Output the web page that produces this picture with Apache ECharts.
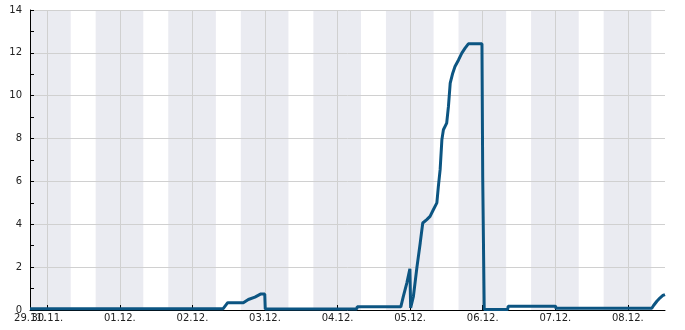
<!DOCTYPE html>
<html>
<head>
<meta charset="utf-8">
<script src="https://cdn.jsdelivr.net/npm/echarts@6/dist/echarts.min.js"></script>
<style>
html,body{margin:0;padding:0;background:#fff;}
#chart{width:685px;height:330px;}
</style>
</head>
<body>
<div id="chart"></div>
<script>
// Time stamps (UTC) and values of the line
const times = [
  '2020-11-29T18:17','2020-12-02T10:10','2020-12-02T11:40','2020-12-02T16:50','2020-12-02T18:30',
  '2020-12-02T20:40','2020-12-02T22:40','2020-12-02T23:55','2020-12-03T00:05','2020-12-04T06:20',
  '2020-12-04T06:30','2020-12-04T20:55','2020-12-04T21:45','2020-12-04T22:55','2020-12-04T23:55',
  '2020-12-05T00:10','2020-12-05T01:05','2020-12-05T02:15','2020-12-05T03:20','2020-12-05T04:10',
  '2020-12-05T05:30','2020-12-05T06:35','2020-12-05T07:40','2020-12-05T08:50','2020-12-05T09:20',
  '2020-12-05T09:55','2020-12-05T10:30','2020-12-05T11:00','2020-12-05T12:05','2020-12-05T12:40',
  '2020-12-05T13:15','2020-12-05T14:05','2020-12-05T14:50','2020-12-05T16:00','2020-12-05T17:05',
  '2020-12-05T18:10','2020-12-05T19:15','2020-12-05T23:45','2020-12-06T00:00','2020-12-06T00:30',
  '2020-12-06T08:15','2020-12-06T08:25','2020-12-07T00:05','2020-12-07T00:15','2020-12-08T07:55',
  '2020-12-08T08:30','2020-12-08T09:05','2020-12-08T09:35','2020-12-08T10:10','2020-12-08T10:40',
  '2020-12-08T11:35','2020-12-08T12:17'
];
const values = [
  0.06,0.06,0.34,0.34,0.49,
  0.60,0.75,0.75,0.05,0.05,
  0.15,0.15,0.64,1.27,1.92,
  0.10,0.64,2.00,3.13,4.06,
  4.22,4.37,4.68,5.00,5.77,
  6.55,7.95,8.41,8.72,9.50,
  10.59,11.05,11.36,11.67,11.99,
  12.22,12.42,12.42,6.20,0.02,
  0.02,0.18,0.18,0.08,0.08,
  0.21,0.30,0.41,0.49,0.57,
  0.68,0.72
];
// Night bands (shaded)
const bandStarts = ['2020-11-29T16:00','2020-11-30T16:00','2020-12-01T16:00','2020-12-02T16:00','2020-12-03T16:00','2020-12-04T16:00','2020-12-05T16:00','2020-12-06T16:00','2020-12-07T16:00'];
const bandEnds   = ['2020-11-30T07:45','2020-12-01T07:45','2020-12-02T07:45','2020-12-03T07:45','2020-12-04T07:45','2020-12-05T07:45','2020-12-06T07:45','2020-12-07T07:45','2020-12-08T07:45'];
// X tick positions (midnights) and axis range
const dayTicks = ['2020-11-30T00:00','2020-12-01T00:00','2020-12-02T00:00','2020-12-03T00:00','2020-12-04T00:00','2020-12-05T00:00','2020-12-06T00:00','2020-12-07T00:00','2020-12-08T00:00'];
const xMin = '2020-11-29T18:17';
const xMax = '2020-12-08T12:17';
const epoch = '2020-11-29T00:00';
const yTicks = [0,2,4,6,8,10,12,14];

const DAY = 86400000;
const ms = s => Date.parse(s + ':00Z');
const D = s => (ms(s) - ms(epoch)) / DAY;   // days since epoch
const lineData = times.map((t,i) => [D(t), values[i]]);
const bandData = bandStarts.map((s,i) => [D(s), D(bandEnds[i])]);
const tickVals = dayTicks.map(D);
const pad = n => (n < 10 ? '0' : '') + n;
const fmt = v => {
  const d = new Date(ms(epoch) + Math.floor(v + 1e-6) * DAY);
  return pad(d.getUTCDate()) + '.' + pad(d.getUTCMonth() + 1) + '.';
};

const chart = echarts.init(document.getElementById('chart'), null, {renderer: 'canvas'});
const font = {fontFamily: 'DejaVu Sans', fontSize: 10, color: '#222'};
const baseX = {
  type: 'value', z: 1, position: 'bottom', offset: 0,
  min: D(xMin), max: D(xMax),
  axisLine: {show: true, onZero: false, lineStyle: {color: '#000', width: 1}},
  axisTick: {show: true, inside: true, length: 5, lineStyle: {color: '#000'}},
  splitLine: {show: true, lineStyle: {color: '#d0d0d0', width: 1}}
};
chart.setOption({
  animation: false,
  grid: {left: 30, right: 20, top: 10, bottom: 20, containLabel: false},
  xAxis: [
    Object.assign({}, baseX, {
      axisTick: Object.assign({}, baseX.axisTick, {customValues: tickVals.slice(1)}),
      axisLabel: Object.assign({formatter: fmt, margin: 3, customValues: [D(xMin)].concat(tickVals.slice(1)), showMinLabel: true, showMaxLabel: true}, font)
    }),
    Object.assign({}, baseX, {
      axisLine: {show: false},
      axisTick: Object.assign({}, baseX.axisTick, {customValues: tickVals.slice(0, 1)}),
      axisLabel: Object.assign({formatter: fmt, margin: 3, customValues: tickVals.slice(0, 1), showMinLabel: true, showMaxLabel: true}, font)
    })
  ],
  yAxis: {
    type: 'value', z: 1,
    min: yTicks[0], max: yTicks[yTicks.length - 1], interval: 2,
    axisLine: {show: true, lineStyle: {color: '#000', width: 1}},
    axisTick: {show: true, inside: true, length: 4, lineStyle: {color: '#000'}},
    minorTick: {show: true, splitNumber: 2, length: 4, lineStyle: {color: '#000'}},
    axisLabel: Object.assign({margin: 8}, font),
    splitLine: {show: true, lineStyle: {color: '#d0d0d0', width: 1}}
  },
  series: [
    {
      type: 'custom', z: 0, silent: true,
      data: bandData,
      encode: {x: [0, 1]},
      renderItem: function (params, api) {
        const a = api.coord([api.value(0), yTicks[yTicks.length - 1]]);
        const b = api.coord([api.value(1), yTicks[0]]);
        const cs = params.coordSys;
        const r = echarts.graphic.clipRectByRect(
          {x: a[0], y: a[1], width: b[0] - a[0], height: b[1] - a[1]},
          {x: cs.x, y: cs.y, width: cs.width, height: cs.height});
        return r && {type: 'rect', shape: r, style: {fill: '#eaebf1'}};
      }
    },
    {
      type: 'line', z: 2,
      data: lineData,
      showSymbol: false,
      lineStyle: {color: '#0c5582', width: 3},
      clip: true
    }
  ]
});
</script>
</body>
</html>
